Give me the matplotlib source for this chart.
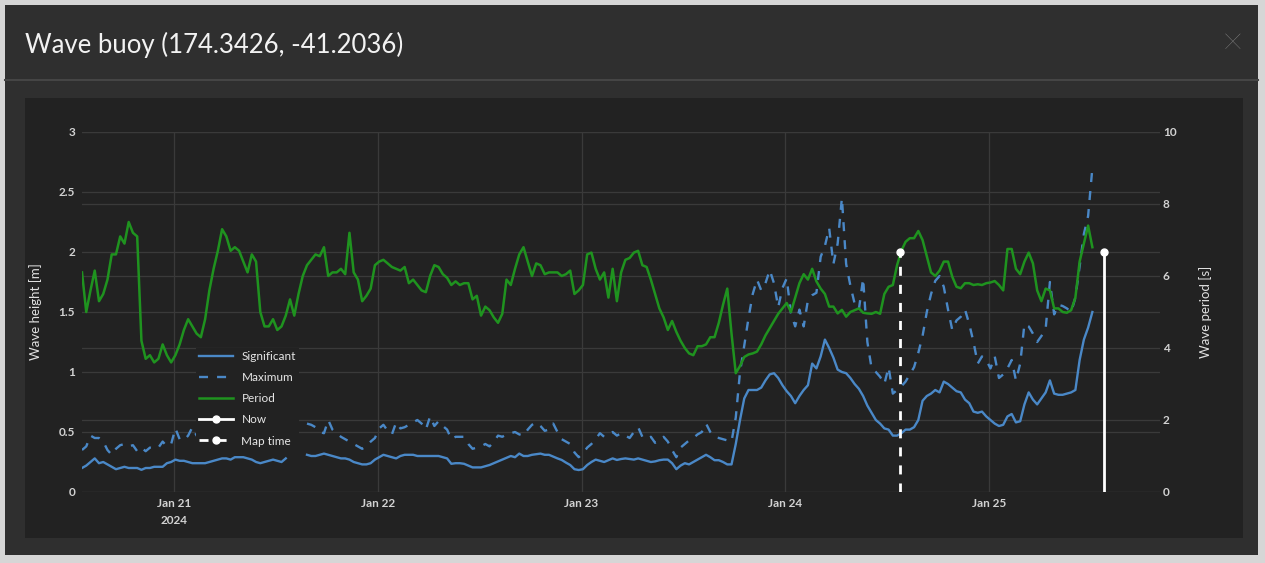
import matplotlib
matplotlib.use("Agg")
import matplotlib.pyplot as plt
from matplotlib.patches import Rectangle
from matplotlib.lines import Line2D
from matplotlib.transforms import blended_transform_factory
import numpy as np
import pandas as pd

W, H = 1265, 563

plt.rcParams["font.family"] = ["Lato", "DejaVu Sans"]
plt.rcParams["lines.scale_dashes"] = False

nan = np.nan

# half-hourly buoy readings, first sample at START
START = "2024-01-20 13:10"
STEP = "30min"

significant = [
    0.2, 0.22, 0.25, 0.28, 0.24, 0.25, 0.23, 0.21, 0.19, 0.2, 0.21, 0.2,
    0.2, 0.2, 0.185, 0.2, 0.2, 0.21, 0.21, 0.21, 0.24, 0.25, 0.27, 0.26,
    0.26, 0.25, 0.24, 0.24, 0.24, 0.24, 0.25, 0.26, 0.27, 0.28, 0.28, 0.27,
    0.29, 0.29, 0.29, 0.28, 0.27, 0.25, 0.24, 0.25, 0.26, 0.27, 0.26, 0.25,
    0.28, nan, nan, nan, nan, 0.31, 0.30, 0.30, 0.31, 0.32, 0.31, 0.30,
    0.29, 0.28, 0.28, 0.27, 0.25, 0.24, 0.23, 0.23, 0.24, 0.27, 0.29, 0.31,
    0.30, 0.29, 0.28, 0.30, 0.31, 0.31, 0.31, 0.30, 0.30, 0.30, 0.30, 0.30,
    0.30, 0.29, 0.28, 0.235, 0.24, 0.24, 0.235, 0.22, 0.205, 0.205, 0.205, 0.215,
    0.225, 0.24, 0.255, 0.27, 0.285, 0.30, 0.29, 0.32, 0.30, 0.30, 0.31, 0.315,
    0.32, 0.31, 0.31, 0.295, 0.28, 0.267, 0.245, 0.225, 0.19, 0.183, 0.19, 0.225,
    0.25, 0.27, 0.26, 0.25, 0.265, 0.28, 0.267, 0.275, 0.28, 0.275, 0.27, 0.28,
    0.27, 0.26, 0.25, 0.255, 0.265, 0.27, 0.27, 0.24, 0.19, 0.22, 0.24, 0.23,
    0.25, 0.27, 0.29, 0.31, 0.29, 0.265, 0.265, 0.25, 0.23, 0.23, 0.4, 0.6,
    0.78, 0.85, 0.85, 0.85, 0.87, 0.93, 0.98, 0.99, 0.95, 0.89, 0.84, 0.80,
    0.74, 0.8, 0.85, 0.89, 1.07, 1.03, 1.13, 1.27, 1.2, 1.12, 1.02, 1.0,
    0.99, 0.95, 0.9, 0.86, 0.8, 0.72, 0.66, 0.6, 0.57, 0.53, 0.52, 0.47,
    0.47, 0.49, 0.52, 0.52, 0.54, 0.6, 0.76, 0.8, 0.82, 0.85, 0.83, 0.92,
    0.9, 0.87, 0.84, 0.83, 0.77, 0.74, 0.67, 0.66, 0.67, 0.63, 0.6, 0.57,
    0.55, 0.56, 0.63, 0.65, 0.58, 0.59, 0.73, 0.83, 0.77, 0.73, 0.78, 0.83,
    0.93, 0.82, 0.81, 0.81, 0.82, 0.83, 0.85, 1.1, 1.27, 1.37, 1.5,
]

maximum = [
    0.35, 0.38, 0.47, 0.45, 0.45, 0.42, 0.35, 0.31, 0.36, 0.39, 0.40, 0.38,
    0.39, 0.34, 0.37, 0.34, 0.37, 0.36, 0.37, 0.42, 0.38, 0.40, 0.53, 0.44,
    0.43, 0.47, 0.54, 0.47, 0.45, 0.48, 0.42, 0.46, 0.50, 0.44, 0.47, 0.43,
    0.49, 0.45, 0.50, 0.46, 0.44, 0.48, 0.45, 0.47, 0.43, 0.46, 0.49, 0.45,
    0.50, nan, nan, nan, nan, 0.57, 0.56, 0.54, 0.50, 0.49, 0.60, 0.52,
    0.49, 0.46, 0.44, 0.42, 0.40, 0.38, 0.36, 0.38, 0.42, 0.45, 0.53, 0.56,
    0.51, 0.48, 0.58, 0.53, 0.54, 0.56, 0.58, 0.60, 0.57, 0.52, 0.63, 0.55,
    0.59, 0.55, 0.52, 0.44, 0.46, 0.46, 0.46, 0.40, 0.36, 0.37, 0.38, 0.40,
    0.38, 0.42, 0.47, 0.46, 0.48, 0.49, 0.50, 0.48, 0.47, 0.52, 0.56, 0.58,
    0.55, 0.51, 0.52, 0.57, 0.50, 0.44, 0.42, 0.40, 0.33, 0.29, 0.32, 0.37,
    0.40, 0.44, 0.49, 0.46, 0.48, 0.50, 0.47, 0.49, 0.47, 0.45, 0.50, 0.54,
    0.46, 0.44, 0.46, 0.41, 0.43, 0.46, 0.42, 0.35, 0.29, 0.37, 0.40, 0.43,
    0.45, 0.48, 0.50, 0.57, 0.50, 0.46, 0.45, 0.44, 0.43, 0.42, 0.62, 1.00,
    1.22, 1.45, 1.65, 1.77, 1.68, 1.74, 1.85, 1.74, 1.54, 1.70, 1.78, 1.49,
    1.38, 1.52, 1.38, 1.60, 1.64, 1.66, 1.96, 2.05, 2.20, 1.90, 2.07, 2.45,
    1.90, 1.72, 1.57, 1.52, 1.78, 1.25, 1.03, 1.00, 0.96, 0.90, 1.04, 0.82,
    0.85, 0.88, 0.92, 0.98, 1.04, 1.16, 1.30, 1.50, 1.65, 1.76, 1.80, 1.71,
    1.52, 1.35, 1.43, 1.46, 1.52, 1.40, 1.25, 1.07, 1.13, 1.10, 1.03, 1.13,
    0.95, 0.98, 1.03, 1.10, 0.93, 1.07, 1.40, 1.38, 1.32, 1.25, 1.30, 1.36,
    1.75, 1.48, 1.56, 1.55, 1.53, 1.50, 1.62, 1.88, 2.15, 2.30, 2.70,
]

period = [
    6.1, 5.0, 5.6, 6.15, 5.3, 5.5, 5.9, 6.6, 6.6, 7.1, 6.9, 7.5,
    7.2, 7.1, 4.2, 3.7, 3.8, 3.6, 3.7, 4.1, 3.8, 3.6, 3.8, 4.1,
    4.5, 4.8, 4.6, 4.4, 4.3, 4.8, 5.6, 6.2, 6.7, 7.3, 7.1, 6.7,
    6.8, 6.7, 6.4, 6.1, 6.6, 6.4, 5.0, 4.6, 4.6, 4.8, 4.5, 4.6,
    4.9, 5.35, 4.9, 5.5, 6.0, 6.3, 6.45, 6.6, 6.55, 6.8, 6.0, 6.1,
    6.1, 6.2, 6.05, 7.2, 6.1, 5.9, 5.3, 5.45, 5.65, 6.3, 6.4, 6.45,
    6.35, 6.25, 6.2, 6.15, 6.25, 5.8, 5.9, 5.75, 5.6, 5.55, 6.0, 6.3,
    6.25, 6.05, 5.95, 5.75, 5.85, 5.75, 5.8, 5.8, 5.35, 5.45, 4.9, 5.15,
    5.05, 4.85, 4.7, 4.95, 5.9, 5.75, 6.2, 6.6, 6.8, 6.4, 6.0, 6.35,
    6.3, 6.05, 6.1, 6.1, 6.1, 6.0, 6.05, 6.15, 5.5, 5.6, 5.75, 6.6,
    6.65, 6.2, 5.9, 6.1, 5.4, 6.2, 5.3, 6.1, 6.45, 6.5, 6.65, 6.7,
    6.3, 6.25, 5.9, 5.5, 5.1, 4.85, 4.5, 4.75, 4.45, 4.2, 4.0, 3.85,
    3.8, 4.05, 4.05, 4.1, 4.3, 4.3, 4.7, 5.2, 5.65, 4.4, 3.3, 3.5,
    3.75, 3.82, 3.85, 3.9, 4.1, 4.35, 4.55, 4.75, 4.95, 5.1, 5.25, 5.0,
    5.4, 5.8, 6.05, 5.9, 6.2, 5.85, 5.65, 5.5, 5.15, 5.15, 4.96, 5.06,
    4.87, 5.0, 5.05, 5.1, 4.98, 4.96, 4.95, 5.0, 4.95, 5.5, 5.7, 5.75,
    6.3, 6.7, 6.95, 7.05, 7.05, 7.25, 7.0, 6.55, 6.1, 6.0, 6.15, 6.4,
    6.4, 5.98, 5.7, 5.66, 5.8, 5.8, 5.75, 5.77, 5.75, 5.8, 5.82, 5.86,
    5.75, 5.6, 6.75, 6.75, 6.2, 6.05, 6.4, 6.65, 6.35, 5.6, 5.3, 5.65,
    5.6, 5.1, 5.1, 5.0, 4.98, 5.05, 5.4, 6.4, 6.9, 7.4, 6.8,
]

now_time = "2024-01-25 13:33"
map_time = "2024-01-24 13:33"
marker_height = 2.0   # metres, top of the Now / Map time markers

x_range = ("2024-01-20 13:10", "2024-01-25 20:08")
x_ticks = ["2024-01-21", "2024-01-22", "2024-01-23", "2024-01-24", "2024-01-25"]
x_tick_labels = ["Jan 21\n2024", "Jan 22", "Jan 23", "Jan 24", "Jan 25"]
height_ticks = [0, 0.5, 1, 1.5, 2, 2.5, 3]
period_ticks = [0, 2, 4, 6, 8, 10]

BLUE = "#4a88c7"
GREEN = "#1f931f"
PANEL = "#222222"
GRIDC = "#3a3a3a"
TICKC = "#d2d2d2"

times = pd.date_range(START, periods=len(period), freq=STEP)
x_ticks = pd.to_datetime(x_ticks)


def fig_box(x0, y0, x1, y1):
    # pixel box (top-left origin) -> figure fraction rect
    return (x0 / W, 1 - y1 / H), (x1 - x0) / W, (y1 - y0) / H


fig = plt.figure(figsize=(W / 100, H / 100), dpi=100, facecolor="#d6d6d6")

xy, w, h = fig_box(5, 5, 1258, 555)
fig.add_artist(Rectangle(xy, w, h, transform=fig.transFigure,
                         facecolor="#2f2f2f", edgecolor="none", zorder=-3))
xy, w, h = fig_box(25, 98, 1243, 538)
fig.add_artist(Rectangle(xy, w, h, transform=fig.transFigure,
                         facecolor=PANEL, edgecolor="none", zorder=-2))
fig.add_artist(Line2D([5 / W, 1258 / W], [1 - 80 / H, 1 - 80 / H],
                      transform=fig.transFigure, color="#454545", lw=1.5))

fig.text(25 / W, 1 - 45 / H, "Wave buoy (174.3426, -41.2036)", fontsize=18.5,
         color="#f2f2f2", ha="left", va="center")
fig.text(1233 / W, 1 - 44 / H, "\u00d7", fontsize=27, color="#8f8f8f",
         ha="center", va="center", fontweight="light")

ax = fig.add_axes([82 / W, 1 - 492 / H, (1160 - 82) / W, (492 - 132) / H])
ax.set_facecolor("none")
ax2 = ax.twinx()
ax2.set_facecolor("none")

for a in (ax, ax2):
    for s in a.spines.values():
        s.set_visible(False)

ax.set_xlim(pd.to_datetime(x_range[0]), pd.to_datetime(x_range[1]))
ax.set_ylim(height_ticks[0], height_ticks[-1])
ax2.set_ylim(period_ticks[0], period_ticks[-1])

# grid: day lines, height lines, and period lines kept under the traces
ax.set_axisbelow(True)
ax.grid(True, axis="both", color=GRIDC, lw=0.9)
period_grid = blended_transform_factory(ax.transAxes, ax2.transData)
for p in period_ticks:
    ax.plot([0, 1], [p, p], transform=period_grid, color=GRIDC, lw=0.9, zorder=0.5)
ax2.grid(False)

ax.set_xticks(x_ticks)
ax.set_xticklabels(x_tick_labels, fontsize=8.5, fontweight="bold",
                   color=TICKC, linespacing=1.7)
ax.set_yticks(height_ticks)
ax.set_yticklabels([f"{v:g}" for v in height_ticks], fontsize=8.5,
                   fontweight="bold", color=TICKC)
ax2.set_yticks(period_ticks)
ax2.set_yticklabels([f"{v:g}" for v in period_ticks], fontsize=8.5,
                    fontweight="bold", color=TICKC)
ax.tick_params(axis="x", length=0, pad=4)
ax.tick_params(axis="y", length=0, pad=5)
ax2.tick_params(axis="y", length=0, pad=2)

fig.text(36 / W, 1 - 312 / H, "Wave height [m]", rotation=90, fontsize=9.5,
         color="#e0e0e0", ha="center", va="center")
fig.text(1206 / W, 1 - 312 / H, "Wave period [s]", rotation=90, fontsize=9.5,
         color="#e0e0e0", ha="center", va="center")

dash = (0, (6.5, 6.5))
ax.plot(times, significant, color=BLUE, lw=1.7, zorder=2)
ax.plot(times, maximum, color=BLUE, lw=1.7, linestyle=dash, zorder=2)
ax2.plot(times, period, color=GREEN, lw=1.8, zorder=2)

now_t = pd.to_datetime(now_time)
map_t = pd.to_datetime(map_time)
ax2.plot([now_t, now_t], [0, marker_height], transform=ax.transData,
         color="white", lw=2, marker="o", ms=5, markevery=[1], zorder=3)
ax2.plot([map_t, map_t], [0, marker_height], transform=ax.transData,
         color="white", lw=2, linestyle=dash, marker="o", ms=5, markevery=[1],
         zorder=3)

handles = [
    Line2D([], [], color=BLUE, lw=1.7),
    Line2D([], [], color=BLUE, lw=1.7, linestyle=dash),
    Line2D([], [], color=GREEN, lw=1.8),
    Line2D([], [], color="white", lw=2, marker="o", ms=5),
    Line2D([], [], color="white", lw=2, linestyle=dash, marker="o", ms=5),
]
labels = ["Significant", "Maximum", "Period", "Now", "Map time"]
leg = ax2.legend(handles, labels, loc="upper left",
                 bbox_to_anchor=(196 / W, 1 - 348 / H),
                 bbox_transform=fig.transFigure, frameon=True,
                 facecolor=PANEL, edgecolor="none", framealpha=1,
                 fontsize=8.5, labelcolor="#e6e6e6", handlelength=2.9,
                 handletextpad=0.7, labelspacing=0.86, borderpad=0.25,
                 borderaxespad=0, numpoints=1, fancybox=False)
leg.set_zorder(10)

fig.savefig("out.png", dpi=100, facecolor=fig.get_facecolor())
